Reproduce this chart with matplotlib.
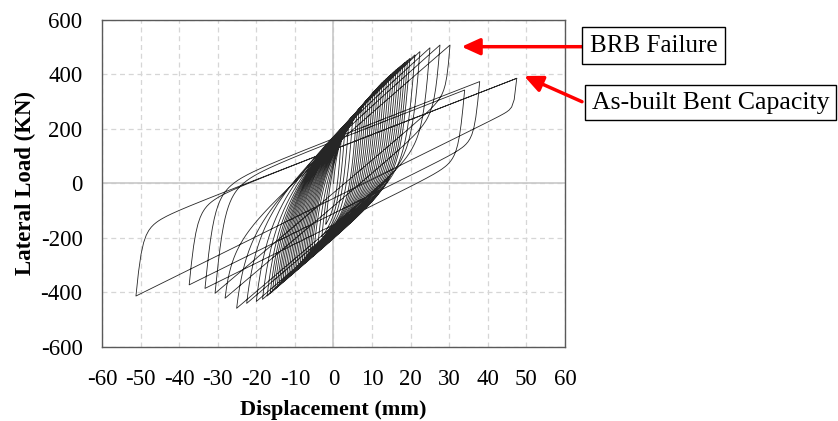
import numpy as np
import matplotlib
matplotlib.use("Agg")
import matplotlib.pyplot as plt

plt.rcParams['font.family'] = ['Liberation Serif', 'DejaVu Serif']
plt.rcParams['axes.unicode_minus'] = False

# BRB 보강 단계: 사이클별 정점 (변위 mm, 하중 kN), 그림에서 읽은 값
brb_pos_d = [2, 3, 4, 5, 6, 6.6, 7.2, 7.8, 8.4, 9, 9.6, 10.2, 10.8, 11.4, 12, 12.6, 13.2,
             13.8, 14.4, 15, 15.6, 16.2, 16.8, 17.4, 18, 18.6, 19.2, 19.8, 21.1, 22.4, 25, 27.6, 30.2]
brb_pos_f = [160, 205, 228, 240, 251, 263, 274, 286, 297, 308, 319, 330, 340, 350, 360, 370, 378,
             386, 394, 401, 409, 417, 424, 431, 438, 445, 452, 459, 472, 484, 498, 508, 508]
brb_neg_d = [-2, -3, -4, -5, -5.6, -6.1, -6.6, -7.1, -7.6, -8.1, -8.6, -9.1, -9.6, -10.1, -10.6,
             -11.1, -11.6, -12.1, -12.6, -13.1, -13.6, -14.1, -14.6, -15.2, -15.8, -16.4, -17.2,
             -18.4, -20.0, -22.5, -25.1, -28.1, -30.7]
brb_neg_f = [-150, -195, -220, -235, -242, -250, -258, -266, -275, -283, -291, -298, -306, -313,
             -320, -328, -335, -342, -349, -356, -363, -370, -377, -386, -394, -402, -413, -425,
             -433, -440, -458, -421, -403]

# BRB 파단 이후 (기존 교각만)
bent_pos_d = [34.0, 37.9, 47.5]
bent_pos_f = [343, 374, 386]
bent_neg_d = [-33.3, -37.4, -51.2]
bent_neg_f = [-385, -372, -413]
end_d, end_f = 47.5, 386

# 곡선 파라미터 (초기강성, 항복후 강성, 곡률 R) - 재하 방향별
brb_up = (120, 12, 1.0)
brb_down = (180, 12, 1.8)
bent_up = (140, 5.5, 2.0)
bent_down = (150, 7, 2.2)


def branch(d_a, f_a, d_b, f_b, k0, k1, r, n=150):
    # Menegotto-Pinto 형태로 정점 A -> 정점 B 반 사이클
    d0 = (f_b - f_a - k1 * d_b + k0 * d_a) / (k0 - k1)
    f0 = f_a + k0 * (d0 - d_a)
    b = k1 / k0
    d = np.linspace(d_a, d_b, n)
    e = (d - d_a) / (d0 - d_a)
    s = b * e + (1 - b) * e / (1 + np.abs(e) ** r) ** (1 / r)
    s = s * ((f_b - f_a) / (f0 - f_a)) / s[-1]
    return d, f_a + s * (f0 - f_a)


# 정점 순서 만들기
tips = [(0.0, 0.0, brb_up)]
for i in range(len(brb_pos_d)):
    tips.append((brb_pos_d[i], brb_pos_f[i], brb_up))
    tips.append((brb_neg_d[i], brb_neg_f[i], brb_down))
for i in range(len(bent_pos_d)):
    tips.append((bent_pos_d[i], bent_pos_f[i], bent_up))
    tips.append((bent_neg_d[i], bent_neg_f[i], bent_down))
tips.append((end_d, end_f, bent_up))

xs, ys = [], []
for (da, fa, _), (db, fb, k) in zip(tips[:-1], tips[1:]):
    d, f = branch(da, fa, db, fb, *k)
    xs.append(d)
    ys.append(f)
xs = np.concatenate(xs)
ys = np.concatenate(ys)

fig = plt.figure(figsize=(8.38, 4.21), dpi=100)
ax = fig.add_axes([0.1217, 0.1758, 0.5525, 0.7767])

ax.set_xlim(-60, 60)
ax.set_ylim(-600, 600)
ax.set_xticks(range(-60, 61, 10))
ax.set_yticks(range(-600, 601, 200))
ax.grid(True, color='#d6d6d6', linestyle=(0, (4, 3)), linewidth=0.9, zorder=0)
ax.axhline(0, color='#c8c8c8', lw=1.2, zorder=1)
ax.axvline(0, color='#c8c8c8', lw=1.2, zorder=1)
ax.set_axisbelow(True)

ax.plot(xs, ys, color='#262626', lw=0.6, zorder=3)

for sp in ax.spines.values():
    sp.set_color('#5a5a5a')
    sp.set_linewidth(1.0)
ax.tick_params(length=0, labelsize=16.5)
ax.tick_params(axis='x', pad=16)
ax.tick_params(axis='y', pad=14)

ax.set_xlabel('Displacement (mm)', fontsize=16, fontweight='bold')
ax.set_ylabel('Lateral Load (KN)', fontsize=16.5, fontweight='bold')
ax.xaxis.set_label_coords(0.5, -0.193)
ax.xaxis.label.set_va('center')
ax.yaxis.set_label_coords(-0.166, 0.5)
ax.yaxis.label.set_va('center')

# 주석 상자와 화살표
box = dict(boxstyle='square,pad=0.3', fc='white', ec='black', lw=1)
fig.text(653.5 / 838, 1 - 45.5 / 421, 'BRB Failure', fontsize=18, ha='center', va='center', bbox=box)
fig.text(710.5 / 838, 1 - 102.5 / 421, 'As-built Bent Capacity', fontsize=18.5, ha='center', va='center',
         bbox=dict(boxstyle='square,pad=0.25', fc='white', ec='black', lw=1))

arrow = dict(arrowstyle='-|>,head_length=0.55,head_width=0.25', color='red', lw=2.5,
             mutation_scale=20, shrinkA=0, shrinkB=0)
ax.annotate('', xy=(33.2, 502), xytext=(584, 421 - 46.7), textcoords='figure pixels',
            arrowprops=arrow, annotation_clip=False)
ax.annotate('', xy=(49.4, 394.5), xytext=(582, 421 - 101.7), textcoords='figure pixels',
            arrowprops=arrow, annotation_clip=False)

fig.savefig('out.png', dpi=100)
